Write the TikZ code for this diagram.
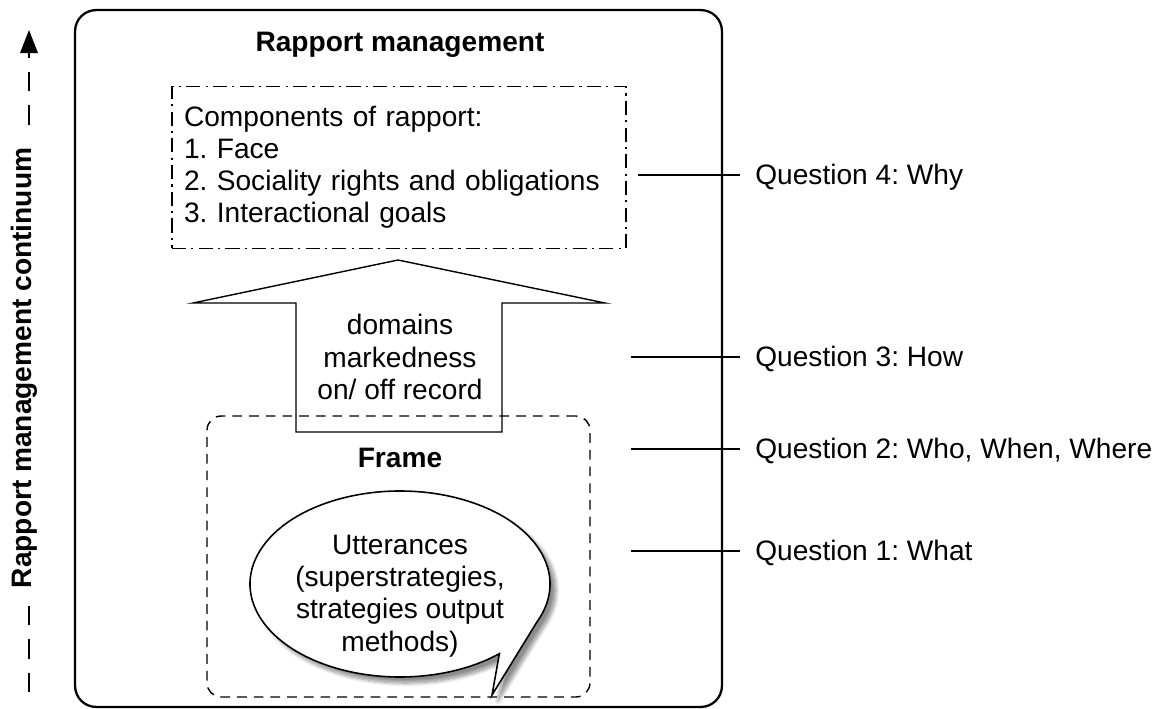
\documentclass[tikz,border=0pt]{standalone}
\usepackage{fontspec}
\setmainfont{Liberation Sans}
\usetikzlibrary{arrows.meta,positioning,shadows.blur}

\begin{document}
\frenchspacing
\begin{tikzpicture}[x=0.02cm,y=-0.02cm,>=Stealth,
  every node/.style={font=\fontsize{16}{18.3}\selectfont,align=center},
  outerbox/.style={draw,line width=1.3pt,rounded corners=12pt,minimum width=12.94cm,minimum height=13.94cm},
  compbox/.style={draw,line width=0.8pt,dash pattern=on 8pt off 3pt on 1.2pt off 3pt,
    minimum width=9.08cm,minimum height=3.24cm,inner xsep=0.24cm,text width=8.6cm,align=left},
  framebox/.style={draw,line width=0.8pt,dash pattern=on 5.5pt off 4pt,rounded corners=8pt,
    minimum width=7.66cm,minimum height=5.62cm},
  bubble/.style={draw,line width=0.9pt,fill=white,line join=miter,
    blur shadow={shadow xshift=1.2mm,shadow yshift=-1.2mm,shadow blur steps=10,shadow opacity=45}},
  qlabel/.style={anchor=west,inner sep=0pt},
  qline/.style={line width=0.8pt}]
\useasboundingbox (0,0) rectangle (1168,708);

% big surrounding box
\node[outerbox] (rapport) at (398.5,358.5) {};
\node[font=\fontsize{16}{18.3}\selectfont\bfseries] (rtitle) at (400,45) {Rapport management};

% components
\node[compbox] (comp) at (399,167.5) {Components of rapport:\\1. Face\\2. Sociality rights and obligations\\3. Interactional goals};

% block arrow with the bases
\draw[line width=0.8pt,fill=white] (296,432) -- (296,303) -- (193,303) -- (398,260)
  -- (605,303) -- (502,303) -- (502,432) -- cycle;
\node (how) at (400,357) {domains\\markedness\\on/ off record};

% frame and utterances
\node[framebox] (frame) at (398.5,556.5) {};
\node[font=\fontsize{16}{18.3}\selectfont\bfseries] (ftitle) at (400,458) {Frame};
\coordinate (bc) at (400,584);
\coordinate (tip) at (492,695);
\draw[bubble] (tip) -- ([shift={(24:150 and 93)}]bc)
  arc[start angle=24,end angle=-311.5,x radius=150,y radius=93] -- cycle;
\node (utter) at (400,596) {Utterances\\(superstrategies,\\strategies output\\methods)};

% questions on the right
\node[qlabel] (q4) at (755,177) {Question 4: Why};
\node[qlabel] (q3) at (755,359) {Question 3: How};
\node[qlabel] (q2) at (755,451) {Question 2: Who, When, Where};
\node[qlabel] (q1) at (755,553) {Question 1: What};
\coordinate (s4) at (638,175);
\coordinate (s3) at (631,357);
\coordinate (s2) at (631,449);
\coordinate (s1) at (631,551);
\coordinate (qend) at (740,0);
\foreach \q in {1,2,3,4}
  \draw[qline] (s\q) -- (s\q -| qend);

% continuum on the left
\coordinate (cbot) at (29,692);
\coordinate (cmid) at (29,52);
\coordinate (ctop) at (29,30);
\draw[line width=1.1pt,dash pattern=on 11pt off 8pt] (cbot) -- (cmid);
\fill (ctop) -- ++(-9,23) -- ++(18,0) -- cycle;
\node[rotate=90,fill=white,inner xsep=6pt,inner ysep=1pt,font=\fontsize{16}{18.3}\selectfont\bfseries] (cont) at (24,368)
  {Rapport management continuum};
\end{tikzpicture}
\end{document}
